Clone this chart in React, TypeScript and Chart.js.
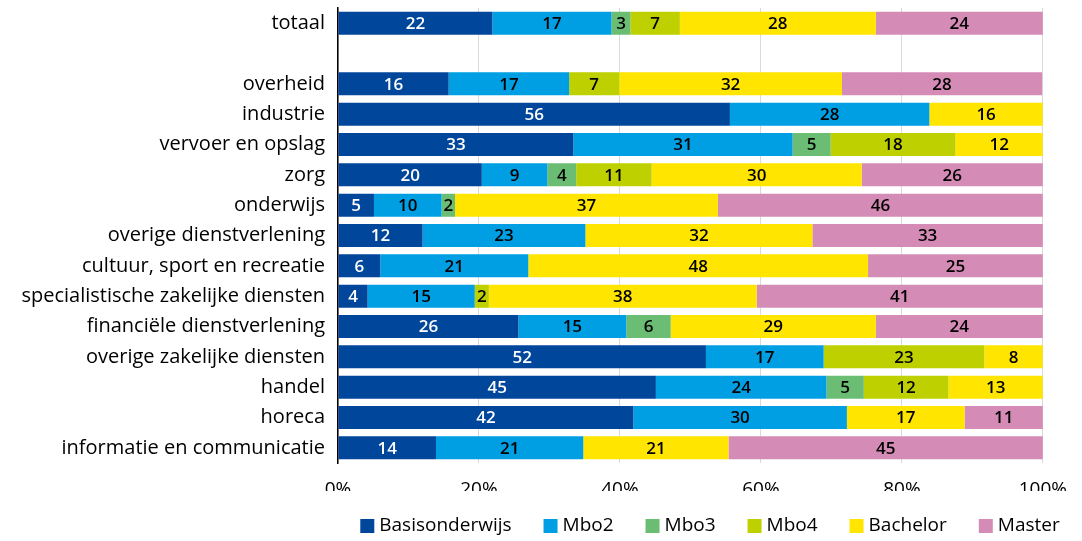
import React, { useEffect, useRef } from "react";
import { Chart, registerables } from "chart.js";

Chart.register(...registerables);

const categories = [
  "totaal",
  "",
  "overheid",
  "industrie",
  "vervoer en opslag",
  "zorg",
  "onderwijs",
  "overige dienstverlening",
  "cultuur, sport en recreatie",
  "specialistische zakelijke diensten",
  "financiële dienstverlening",
  "overige zakelijke diensten",
  "handel",
  "horeca",
  "informatie en communicatie",
];

const basisonderwijs = [21.9, null, 15.7, 55.6, 33.4, 20.4, 5.1, 12.0, 6.0, 4.2, 25.6, 52.2, 45.1, 41.9, 13.9];
const mbo2 = [16.9, null, 17.1, 28.3, 31.1, 9.3, 9.6, 23.1, 21.0, 15.2, 15.3, 16.7, 24.2, 30.3, 20.9];
const mbo3 = [2.7, null, 0, 0, 5.4, 4.1, 1.9, 0, 0, 0, 6.3, 0, 5.3, 0, 0];
const mbo4 = [7.0, null, 7.1, 0, 17.7, 10.7, 0, 0, 0, 2.0, 0, 22.8, 12.0, 0, 0];
const bachelor = [27.8, null, 31.6, 16.1, 12.4, 29.8, 37.3, 32.2, 48.2, 38.0, 29.1, 8.3, 13.4, 16.7, 20.6];
const master = [23.7, null, 28.4, 0, 0, 25.7, 46.1, 32.7, 24.8, 40.6, 23.7, 0, 0, 11.1, 44.6];

const seriesNames = ["Basisonderwijs", "Mbo2", "Mbo3", "Mbo4", "Bachelor", "Master"];
const seriesValues = [basisonderwijs, mbo2, mbo3, mbo4, bachelor, master];
const seriesColors = ["#00469B", "#009FE3", "#6BBD73", "#BED000", "#FFE500", "#D48BB6"];
const labelColors = ["#FFFFFF", "#000000", "#000000", "#000000", "#000000", "#000000"];

const xTicks = [0, 20, 40, 60, 80, 100];

const FONT = "'Open Sans', 'Noto Sans', sans-serif";

const valueLabels = {
  id: "valueLabels",
  afterDatasetsDraw(chart: any) {
    const ctx = chart.ctx;
    ctx.save();
    ctx.font = `600 17px ${FONT}`;
    ctx.textAlign = "center";
    ctx.textBaseline = "middle";
    chart.data.datasets.forEach((ds: any, i: number) => {
      const meta = chart.getDatasetMeta(i);
      meta.data.forEach((bar: any, j: number) => {
        const v = ds.data[j];
        if (v === null || v === undefined || v === 0) return;
        const p = bar.getProps(["x", "y", "base"], true);
        ctx.fillStyle = labelColors[i];
        ctx.fillText(String(Math.round(v)), (p.x + p.base) / 2, p.y + 1);
      });
    });
    ctx.restore();
  },
};

const bottomLegend = {
  id: "bottomLegend",
  afterDraw(chart: any) {
    const ctx = chart.ctx;
    ctx.save();
    ctx.font = `19px ${FONT}`;
    ctx.textBaseline = "middle";
    ctx.textAlign = "left";
    const box = 14;
    const gapBoxText = 5;
    const gapItems = 32;
    const widths = seriesNames.map((n) => box + gapBoxText + ctx.measureText(n).width);
    const total = widths.reduce((a, b) => a + b, 0) + gapItems * (seriesNames.length - 1);
    const center = (chart.chartArea.left + chart.width) / 2;
    let x = center - total / 2;
    const y = chart.height - 15;
    seriesNames.forEach((n, i) => {
      ctx.fillStyle = seriesColors[i];
      ctx.fillRect(x, y - box / 2, box, box);
      ctx.fillStyle = "#000000";
      ctx.fillText(n, x + box + gapBoxText, y);
      x += widths[i] + gapItems;
    });
    ctx.restore();
  },
};

export default function App() {
  const canvasRef = useRef<HTMLCanvasElement | null>(null);

  useEffect(() => {
    if (!canvasRef.current) return;
    const chart = new Chart(canvasRef.current, {
      type: "bar",
      data: {
        labels: categories,
        datasets: seriesNames.map((name, i) => ({
          label: name,
          data: seriesValues[i],
          backgroundColor: seriesColors[i],
          borderWidth: 0,
          barPercentage: 0.76,
          categoryPercentage: 1,
        })),
      },
      options: {
        indexAxis: "y",
        animation: false,
        responsive: true,
        maintainAspectRatio: false,
        layout: { padding: { top: 8, right: 34, bottom: 50, left: 0 } },
        plugins: {
          legend: { display: false },
          tooltip: { enabled: false },
        },
        scales: {
          x: {
            stacked: true,
            min: 0,
            max: 100,
            afterFit: (scale: any) => {
              scale.height = 28;
            },
            afterBuildTicks: (scale: any) => {
              scale.ticks = xTicks.map((v) => ({ value: v }));
            },
            ticks: {
              callback: (v: any) => `${v}%`,
              font: { family: FONT, size: 19 },
              color: "#000000",
              padding: 15,
              maxRotation: 0,
            },
            grid: { color: "#D9D9D9", lineWidth: 1, drawTicks: false },
            border: { display: false },
          },
          y: {
            stacked: true,
            afterFit: (scale: any) => {
              scale.width = 338;
              scale.paddingTop = 0;
              scale.paddingBottom = 0;
            },
            ticks: {
              font: { family: FONT, size: 20 },
              color: "#000000",
              padding: 13,
              autoSkip: false,
            },
            grid: { display: false, drawTicks: false },
            border: { display: true, color: "#000000", width: 1.5 },
          },
        },
      },
      plugins: [valueLabels, bottomLegend],
    });
    return () => chart.destroy();
  }, []);

  return (
    <div style={{ position: "absolute", left: 0, top: 0, width: 1082, height: 541, background: "#ffffff" }}>
      <canvas ref={canvasRef} />
    </div>
  );
}
